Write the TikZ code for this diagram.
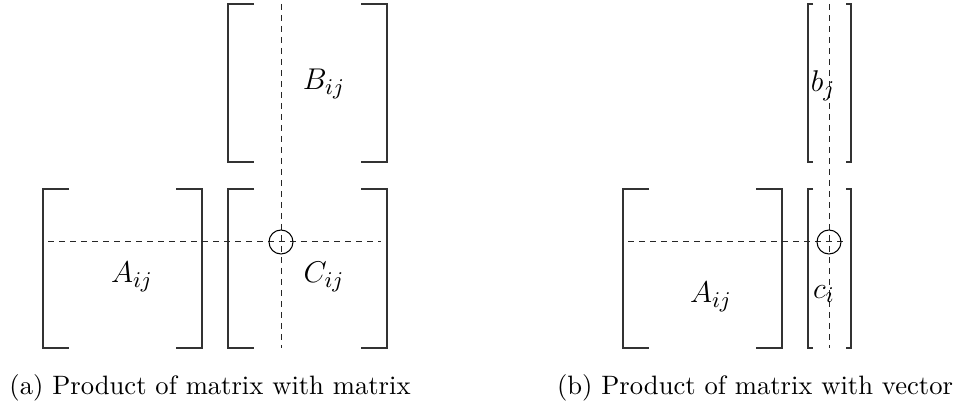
\documentclass[tikz,border=0pt]{standalone}
\begin{document}
\begin{tikzpicture}[x=0.4pt,y=-0.4pt,
  brk/.style={line width=0.42pt, black!80},
  guide/.style={line width=0.4pt, black!85, dash pattern=on 2.3pt off 2.1pt},
  ring/.style={circle, draw, line width=0.42pt, minimum size=9.6pt, inner sep=0pt},
  lbl/.style={inner sep=0pt, font=\fontsize{13}{16}\selectfont},
  captxt/.style={inner sep=0pt, font=\fontsize{10.64}{13}\selectfont}]
\useasboundingbox (0,0) rectangle (954,410);
% ---------- (a)
% A
\draw[brk] (69,189) -- (43,189) -- (43,348) -- (69,348);
\draw[brk] (176,189) -- (202,189) -- (202,348) -- (176,348);
% C
\draw[brk] (254,189) -- (228,189) -- (228,348) -- (254,348);
\draw[brk] (361,189) -- (387,189) -- (387,348) -- (361,348);
% B
\draw[brk] (254,4) -- (228,4) -- (228,162) -- (254,162);
\draw[brk] (361,4) -- (387,4) -- (387,162) -- (361,162);
\coordinate (av1) at (281,4);
\coordinate (av2) at (281,348);
\coordinate (ah1) at (48,242);
\coordinate (ah2) at (381,242);
\draw[guide] (av1) -- (av2);
\draw[guide] (ah1) -- (ah2);
\node[ring] (ac) at (281,242) {};
\node[lbl] (Bij) at (324,84) {$B_{ij}$};
\node[lbl] (Aij) at (132,277) {$A_{ij}$};
\node[lbl] (Cij) at (324,277) {$C_{ij}$};
\node[captxt] (capa) at (210,388) {(a) Product of matrix with matrix};
% ---------- (b)
\draw[brk] (649,189) -- (623,189) -- (623,348) -- (649,348);
\draw[brk] (756,189) -- (782,189) -- (782,348) -- (756,348);
% c
\draw[brk] (813,189) -- (808,189) -- (808,348) -- (813,348);
\draw[brk] (846,189) -- (851,189) -- (851,348) -- (846,348);
% b
\draw[brk] (813,4) -- (808,4) -- (808,162) -- (813,162);
\draw[brk] (846,4) -- (851,4) -- (851,162) -- (846,162);
\coordinate (bv1) at (829,4);
\coordinate (bv2) at (829,348);
\coordinate (bh1) at (628,242);
\coordinate (bh2) at (847,242);
\draw[guide] (bv1) -- (bv2);
\draw[guide] (bh1) -- (bh2);
\node[ring] (bc) at (829,242) {};
\node[lbl] (bj) at (823,86) {$b_{j}$};
\node[lbl] (Ab) at (711,297) {$A_{ij}$};
\node[lbl] (ci) at (824,294) {$c_{i}$};
\node[captxt] (capb) at (755,388) {(b) Product of matrix with vector};
\end{tikzpicture}
\end{document}
